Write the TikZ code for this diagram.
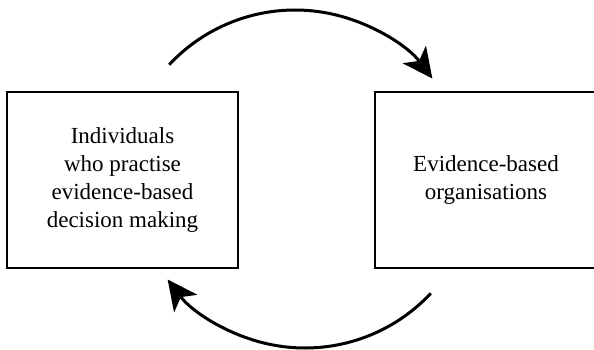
\documentclass[tikz,border=0pt]{standalone}
\usepackage{fontspec}
\setmainfont{Liberation Serif}
\usetikzlibrary{arrows.meta,positioning}
\tikzset{
	box/.style={draw,line width=1.8pt,outer sep=0pt,minimum height=176pt,align=center,font=\fontsize{23}{28}\selectfont},
	flow/.style={line width=3pt,-{Stealth[length=30pt,width=29pt,inset=8pt]}}
}
\begin{document}
\begin{tikzpicture}[x=1pt,y=1pt]
\useasboundingbox (0,0) rectangle (594,349);
\clip (0,0) rectangle (594,349);
\node[box,minimum width=231pt] (indiv) at (122.5,169) {Individuals\\who practise\\evidence-based\\decision making};
\node[box,minimum width=222pt,right=137pt of indiv] (org) {Evidence-based\\organisations};
% both arcs turn round (nearly) the same centre between the boxes
\coordinate (C1) at (295,167);
\coordinate (C2) at (305,173);
\draw[flow] (C1)++(137:172) arc (137:37:172);
\draw[flow] (C2)++(-43:172) arc (-43:-143:172);
\end{tikzpicture}
\end{document}
